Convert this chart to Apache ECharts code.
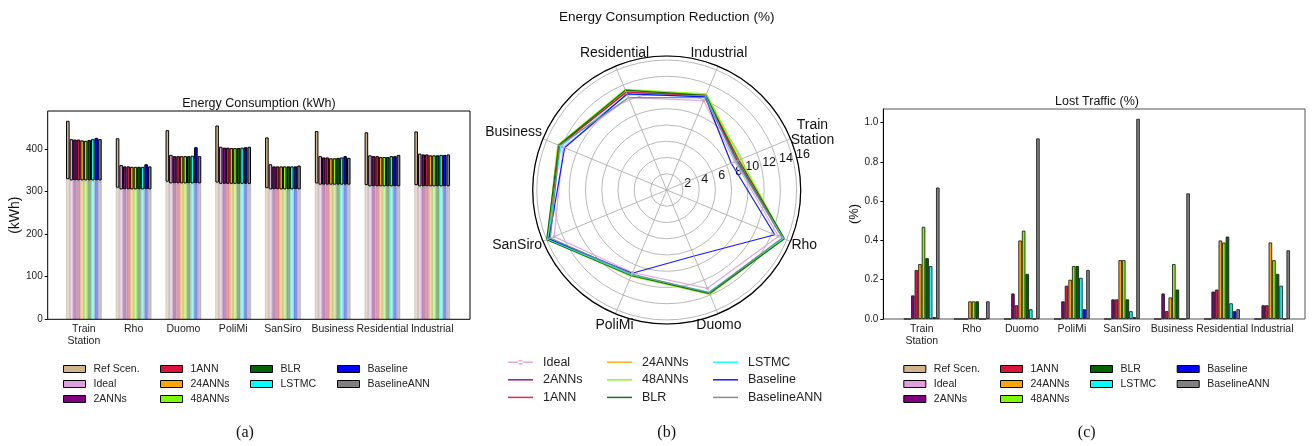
<!DOCTYPE html>
<html>
<head>
<meta charset="utf-8">
<title>Energy consumption, reduction and lost traffic</title>
<script src="https://cdn.jsdelivr.net/npm/echarts@6/dist/echarts.min.js"></script>
<style>
  html, body { margin: 0; padding: 0; background: #fff; }
  #chart { width: 1315px; height: 446px; }
</style>
</head>
<body>
<div id="chart"></div>
<script>
// areas, in x axis order
const areas = ['Train Station', 'Rho', 'Duomo', 'PoliMi', 'SanSiro', 'Business', 'Residential', 'Industrial'];
const models = ['Ref Scen.', 'Ideal', '2ANNs', '1ANN', '24ANNs', '48ANNs', 'BLR', 'LSTMC', 'Baseline', 'BaselineANN'];

// (a) energy consumption (kWh), bar tops
const kwhRef = [466, 425, 444, 455, 427, 442, 439, 441];
const kwhIdeal = [423, 362, 386, 405, 364, 383, 385, 389];
const kwh2ANNs = [422, 359, 383, 403, 359, 380, 383, 387];
const kwh1ANN = [422, 359, 383, 403, 359, 380, 383, 387];
const kwh24ANNs = [420, 358, 383, 402, 359, 378, 381, 385];
const kwh48ANNs = [419, 358, 383, 402, 359, 378, 381, 385];
const kwhBLR = [421, 358, 383, 402, 359, 379, 381, 385];
const kwhLSTMC = [423, 358, 384, 403, 359, 380, 383, 386];
const kwhBaseline = [426, 364, 404, 404, 359, 383, 383, 386];
const kwhBaselineANN = [423, 359, 383, 405, 361, 379, 386, 387];
// pale lower part of the bars
const kwhBaseRef = [329, 309, 323, 321, 308, 319, 315, 315];
const kwhBaseModel = [326, 305, 319, 318, 305, 316, 312, 312];

// (b) energy consumption reduction (%)
const redIdeal = [9.1, 14.9, 13.1, 11.0, 15.0, 13.8, 12.3, 11.9];
const red2ANNs = [9.4, 15.5, 13.7, 11.4, 15.8, 14.3, 13.1, 12.6];
const red1ANN = [9.4, 15.5, 13.7, 11.4, 15.8, 14.3, 13.0, 12.5];
const red24ANNs = [9.7, 15.6, 13.8, 11.4, 15.9, 14.5, 13.2, 12.7];
const red48ANNs = [9.9, 15.6, 13.9, 11.5, 15.9, 14.5, 13.4, 12.8];
const redBLR = [9.6, 15.7, 13.8, 11.4, 16.0, 14.4, 13.3, 12.6];
const redLSTMC = [9.2, 15.5, 13.6, 11.3, 15.8, 14.1, 12.7, 12.5];
const redBaseline = [8.6, 14.4, 8.8, 11.1, 15.7, 13.6, 12.8, 12.4];
const redBaselineANN = [9.3, 15.4, 13.7, 11.2, 15.5, 14.3, 12.3, 12.3];

// (c) lost traffic (%)
const lostRef = [0, 0, 0, 0, 0, 0, 0, 0];
const lostIdeal = [0, 0, 0, 0, 0, 0, 0, 0];
const lost2ANNs = [0.12, 0, 0.13, 0.09, 0.10, 0.13, 0.14, 0.07];
const lost1ANN = [0.25, 0, 0.07, 0.17, 0.10, 0.04, 0.15, 0.07];
const lost24ANNs = [0.28, 0.09, 0.40, 0.20, 0.30, 0.11, 0.40, 0.39];
const lost48ANNs = [0.47, 0.09, 0.45, 0.27, 0.30, 0.28, 0.39, 0.30];
const lostBLR = [0.31, 0.09, 0.23, 0.27, 0.10, 0.15, 0.42, 0.23];
const lostLSTMC = [0.27, 0, 0.05, 0.21, 0.04, 0, 0.08, 0.17];
const lostBaseline = [0.01, 0, 0, 0.05, 0.01, 0, 0.04, 0];
const lostBaselineANN = [0.67, 0.09, 0.92, 0.25, 1.02, 0.64, 0.05, 0.35];

const kwhTicks = [0, 100, 200, 300, 400];
const lostTicks = [0, 0.2, 0.4, 0.6, 0.8, 1.0];
const radTicks = [2, 4, 6, 8, 10, 12, 14, 16];

const colors = ['#D2B48C', '#DDA0DD', '#800080', '#DC143C', '#FFA500', '#7CFC00', '#006400', '#00FFFF', '#0000FF', '#808080'];

const kwhTotal = [kwhRef, kwhIdeal, kwh2ANNs, kwh1ANN, kwh24ANNs, kwh48ANNs, kwhBLR, kwhLSTMC, kwhBaseline, kwhBaselineANN];
const lostAll = [lostRef, lostIdeal, lost2ANNs, lost1ANN, lost24ANNs, lost48ANNs, lostBLR, lostLSTMC, lostBaseline, lostBaselineANN];
const redAll = [redIdeal, red2ANNs, red1ANN, red24ANNs, red48ANNs, redBLR, redLSTMC, redBaseline, redBaselineANN];

// radar indicators run counter-clockwise from Train Station
const radarOrder = [0, 7, 6, 5, 4, 3, 2, 1];

const SANS = 'Liberation Sans';
const BAR_W = 3.57;

function fade(hex, a) {
  const n = parseInt(hex.slice(1), 16);
  return 'rgba(' + (n >> 16) + ',' + ((n >> 8) & 255) + ',' + (n & 255) + ',' + a + ')';
}

const chart = echarts.init(document.getElementById('chart'), null, { renderer: 'canvas' });

const series = [];
models.forEach((m, i) => {
  const base = i === 0 ? kwhBaseRef : kwhBaseModel;
  series.push({
    name: m + ' base', type: 'bar', xAxisIndex: 1, yAxisIndex: 1, stack: 'k' + i,
    barWidth: BAR_W, barGap: '0%', silent: true,
    itemStyle: { color: fade(colors[i], 0.45), borderColor: 'rgba(0,0,0,0.22)', borderWidth: 0.7 },
    data: base
  });
  series.push({
    name: m, type: 'bar', xAxisIndex: 1, yAxisIndex: 1, stack: 'k' + i,
    barWidth: BAR_W, barGap: '0%', silent: true,
    itemStyle: { color: colors[i], borderColor: '#000', borderWidth: 1 },
    data: kwhTotal[i].map((v, j) => v - base[j])
  });
});
models.forEach((m, i) => {
  series.push({
    name: m, type: 'bar', xAxisIndex: 3, yAxisIndex: 3,
    barWidth: BAR_W, barGap: '0%', silent: true,
    itemStyle: { color: colors[i], borderColor: '#222', borderWidth: 0.9 },
    data: lostAll[i]
  });
});
series.push({
  type: 'radar', radarIndex: 0, silent: true,
  data: redAll.map((arr, k) => ({
    name: models[k + 1],
    value: radarOrder.map(i => arr[i]),
    symbol: k === 0 ? 'circle' : 'none',
    symbolSize: 3,
    itemStyle: { color: colors[k + 1] },
    lineStyle: { color: colors[k + 1], width: 1.2, opacity: 0.9 }
  }))
});

function barLegend(left, names) {
  return {
    orient: 'vertical', left: left, top: 363, padding: 0, itemGap: 3,
    itemWidth: 22, itemHeight: 7, selectedMode: false,
    textStyle: { fontFamily: SANS, fontSize: 10.5, color: '#222', lineHeight: 12, padding: [0, 0, 0, 3] },
    data: names.map(n => ({
      name: n, icon: 'rect',
      itemStyle: { color: colors[models.indexOf(n)], borderColor: '#000', borderWidth: 1 }
    }))
  };
}
const LINE_ICON = 'path://M0,0H25V1.5H0Z';
const DOT_ICON = 'path://M0,1.7H25V3.3H0Z M10,2.5a2.5,2.5 0 1,0 5,0a2.5,2.5 0 1,0 -5,0Z';
function lineLegend(left, top, names, icon, h) {
  return {
    orient: 'vertical', left: left, top: top, padding: 0, itemGap: 3.6,
    itemWidth: 25, itemHeight: h, selectedMode: false,
    textStyle: { fontFamily: SANS, fontSize: 12.5, color: '#222', lineHeight: 14, padding: [0, 0, 0, 5] },
    data: names.map(n => ({
      name: n, icon: icon,
      itemStyle: { color: colors[models.indexOf(n)], borderWidth: 0, opacity: 0.9 }
    }))
  };
}

const nameStyle = { fontFamily: SANS, fontSize: 14, color: '#111' };

const option = {
  animation: false,
  backgroundColor: '#fff',
  textStyle: { fontFamily: SANS },
  graphic: [
    { type: 'text', x: 258.9, y: 104, style: { text: 'Energy Consumption (kWh)', textAlign: 'center', textVerticalAlign: 'middle', font: '12.5px "Liberation Sans"', fill: '#111' } },
    { type: 'text', x: 666.7, y: 17, style: { text: 'Energy Consumption Reduction (%)', textAlign: 'center', textVerticalAlign: 'middle', font: '13.5px "Liberation Sans"', fill: '#111' } },
    { type: 'text', x: 1097, y: 102, style: { text: 'Lost Traffic (%)', textAlign: 'center', textVerticalAlign: 'middle', font: '12.5px "Liberation Sans"', fill: '#111' } },
    { type: 'text', x: 245, y: 433, style: { text: '(a)', textAlign: 'center', textVerticalAlign: 'middle', font: '16px "Liberation Serif"', fill: '#111' } },
    { type: 'text', x: 666.7, y: 433, style: { text: '(b)', textAlign: 'center', textVerticalAlign: 'middle', font: '16px "Liberation Serif"', fill: '#111' } },
    { type: 'text', x: 1086.7, y: 433, style: { text: '(c)', textAlign: 'center', textVerticalAlign: 'middle', font: '16px "Liberation Serif"', fill: '#111' } }
  ],
  grid: [
    { left: 47.7, right: 845, top: 111, bottom: 126.7, show: true, borderColor: '#000', borderWidth: 1, backgroundColor: 'transparent' },
    { left: 59.0, right: 857.9, top: 111, bottom: 126.7 },
    { left: 883.3, right: 10, top: 109, bottom: 127, show: true, borderColor: '#555', borderWidth: 1, backgroundColor: 'transparent' },
    { left: 896.7, right: 17.8, top: 109, bottom: 127 }
  ],
  xAxis: [
    { gridIndex: 0, type: 'value', min: 0, max: 1, show: false },
    { gridIndex: 1, type: 'category', data: areas, axisLine: { show: false }, axisTick: { show: false }, splitLine: { show: false },
      axisLabel: { interval: 0, fontSize: 10.5, color: '#222', margin: 4, lineHeight: 12, formatter: v => v.replace(' ', '\n') } },
    { gridIndex: 2, type: 'value', min: 0, max: 1, show: false },
    { gridIndex: 3, type: 'category', data: areas, axisLine: { show: false }, axisTick: { show: false }, splitLine: { show: false },
      axisLabel: { interval: 0, fontSize: 10.5, color: '#222', margin: 4, lineHeight: 12, formatter: v => v.replace(' ', '\n') } }
  ],
  yAxis: [
    { gridIndex: 0, type: 'value', min: 0, max: 489, axisLine: { show: false }, splitLine: { show: false },
      axisTick: { show: true, length: 3, customValues: kwhTicks, lineStyle: { color: '#000' } },
      axisLabel: { customValues: kwhTicks, fontSize: 10, color: '#222', margin: 5 },
      name: '(kWh)', nameLocation: 'middle', nameGap: 23, nameTextStyle: { fontSize: 14, color: '#111' } },
    { gridIndex: 1, type: 'value', min: 0, max: 489, show: false },
    { gridIndex: 2, type: 'value', min: 0, max: 1.07, axisLine: { show: true, lineStyle: { color: '#000' } }, splitLine: { show: false },
      axisTick: { show: true, length: 3, customValues: lostTicks, lineStyle: { color: '#000' } },
      axisLabel: { customValues: lostTicks, fontSize: 10, color: '#222', margin: 5, formatter: v => v.toFixed(1) },
      name: '(%)', nameLocation: 'middle', nameGap: 20, nameTextStyle: { fontSize: 13, color: '#111' } },
    { gridIndex: 3, type: 'value', min: 0, max: 1.07, show: false }
  ],
  polar: [
    { center: [666.7, 190], radius: 134 },
    // only carries the radial tick labels, set a little off the rings like the original
    { center: [666.7, 190], radius: 152 }
  ],
  angleAxis: [
    { polarIndex: 0, type: 'value', min: 0, max: 360, interval: 45, startAngle: 22.5, z: 3,
      axisLine: { show: true, lineStyle: { color: '#000', width: 1.2 } },
      axisTick: { show: false }, axisLabel: { show: false },
      splitLine: { show: true, lineStyle: { color: '#b0b0b0', width: 0.9 } } },
    { polarIndex: 1, type: 'value', min: 0, max: 360, startAngle: 14, show: false }
  ],
  radiusAxis: [
    { polarIndex: 0, min: 0, max: 16.5, interval: 2, axisLine: { show: false }, axisTick: { show: false },
      axisLabel: { show: false }, splitLine: { show: true, lineStyle: { color: '#b0b0b0', width: 0.9 } } },
    { polarIndex: 1, min: -0.9, max: 16.5, interval: 2, axisLine: { show: false }, axisTick: { show: false },
      splitLine: { show: false },
      axisLabel: { customValues: radTicks, fontSize: 12.5, color: '#111', margin: 0 } }
  ],
  radar: {
    center: [666.7, 190], radius: 134, startAngle: 22.5, shape: 'circle',
    indicator: radarOrder.map(i => ({ name: areas[i], min: 0, max: 16.5 })),
    axisLine: { show: false }, splitLine: { show: false }, splitArea: { show: false },
    axisTick: { show: false }, axisLabel: { show: false },
    axisNameGap: 1,
    axisName: {
      fontFamily: SANS, fontSize: 14, color: '#111',
      formatter: name => {
        if (name === 'Train Station') return '{ts|Train}\n{ts|Station}\n{gap| }';
        if (name === 'Industrial' || name === 'Residential') return '{up|' + name + '}';
        if (name === 'PoliMi' || name === 'Duomo') return '{dn|' + name + '}';
        if (name === 'Business') return '{bz|' + name + '}';
        return '{lo|' + name + '}';
      },
      rich: {
        ts: Object.assign({ width: 42, align: 'center', lineHeight: 15 }, nameStyle),
        gap: { fontSize: 8, lineHeight: 12 },
        up: Object.assign({ width: 1, align: 'center', padding: [0, 0, 24, 0] }, nameStyle),
        dn: Object.assign({ width: 1, align: 'center', padding: [20, 0, 0, 0] }, nameStyle),
        bz: Object.assign({ padding: [0, 0, 12, 0] }, nameStyle),
        lo: Object.assign({ padding: [7, 0, 0, 0] }, nameStyle)
      }
    }
  },
  legend: [
    barLegend(63, ['Ref Scen.', 'Ideal', '2ANNs']),
    barLegend(160, ['1ANN', '24ANNs', '48ANNs']),
    barLegend(250, ['BLR', 'LSTMC']),
    barLegend(337, ['Baseline', 'BaselineANN']),
    barLegend(903.3, ['Ref Scen.', 'Ideal', '2ANNs']),
    barLegend(1000, ['1ANN', '24ANNs', '48ANNs']),
    barLegend(1090, ['BLR', 'LSTMC']),
    barLegend(1176.7, ['Baseline', 'BaselineANN']),
    lineLegend(508, 355.2, ['Ideal'], DOT_ICON, 5),
    lineLegend(508, 372.8, ['2ANNs', '1ANN'], LINE_ICON, 1.5),
    lineLegend(607, 355.2, ['24ANNs', '48ANNs', 'BLR'], LINE_ICON, 1.5),
    lineLegend(713, 355.2, ['LSTMC', 'Baseline', 'BaselineANN'], LINE_ICON, 1.5)
  ],
  series: series
};

chart.setOption(option);
</script>
</body>
</html>
